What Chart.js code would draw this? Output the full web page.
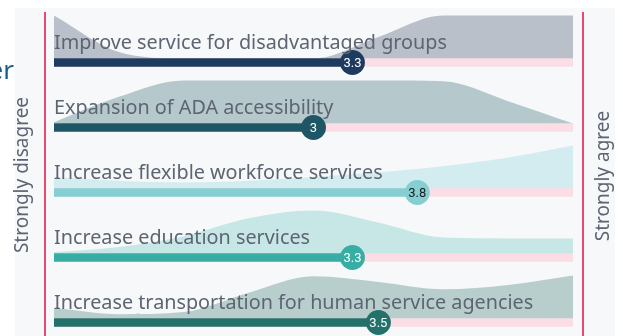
<!DOCTYPE html>
<html>
<head>
<meta charset="utf-8">
<script src="https://cdn.jsdelivr.net/npm/chart.js@4.4.1/dist/chart.umd.min.js"></script>
<style>
  html, body { margin: 0; padding: 0; background: #fff; }
  canvas { display: block; }
</style>
</head>
<body>
<canvas id="ratingChart" width="623" height="336"></canvas>
<script>
const categories = [
  'Improve service for disadvantaged groups',
  'Expansion of ADA accessibility',
  'Increase flexible workforce services',
  'Increase education services',
  'Increase transportation for human service agencies'
];
const averages = [3.3, 3, 3.8, 3.3, 3.5];

// answer spread along the 1-5 scale, 1 = tallest point of the ridge
const ratingSteps = [1, 1.5, 2, 2.5, 3, 3.5, 4, 4.5, 5];
const spreadDisadvantaged = [1.0, 0.15, 0, 0, 0, 0.5, 1.0, 1.0, 1.0];
const spreadAda = [0.03, 0.62, 1.0, 1.0, 1.0, 1.0, 0.98, 0.52, 0];
const spreadWorkforce = [0.27, 0.18, 0.14, 0.18, 0.27, 0.38, 0.52, 0.72, 1.0];
const spreadEducation = [0.03, 0.15, 0.4, 0.82, 1.0, 0.72, 0.37, 0.35, 0.35];
const spreadTransport = [0.25, 0.1, 0.15, 0.6, 0.98, 0.85, 0.68, 0.78, 1.0];
const spreads = [spreadDisadvantaged, spreadAda, spreadWorkforce, spreadEducation, spreadTransport];

const scaleEnds = ['Strongly disagree', 'Strongly agree'];

const barColors = ['#1d3b5f', '#1f5666', '#85cfd3', '#38ada4', '#22716b'];
const ridgeColors = ['#b9c0ca', '#b5c8cc', '#d2ecef', '#c7e7e7', '#b8cecd'];
const numberColors = ['#ffffff', '#ffffff', '#1a1a1a', '#ffffff', '#ffffff'];

// rows sit at y = 4 (top) .. 0 (bottom), 65px apart
const Y_MIN = -0.2077, Y_MAX = 4.9615;
const RIDGE = 43 / 65, BAR_LIFT = 4 / 65;
const rowY = i => 4 - i;

const ridgeSets = spreads.map((s, i) => ({
  type: 'line',
  data: ratingSteps.map((step, k) => ({ x: step, y: rowY(i) + BAR_LIFT + s[k] * RIDGE })),
  borderWidth: 0,
  pointRadius: 0,
  backgroundColor: ridgeColors[i],
  fill: { value: rowY(i) },
  cubicInterpolationMode: 'monotone',
  order: 4
}));

const ctx = document.getElementById('ratingChart').getContext('2d');

const decor = {
  id: 'decor',
  beforeDraw(chart) {
    const c = chart.ctx;
    c.save();
    c.fillStyle = '#ffffff';
    c.fillRect(0, 0, chart.width, chart.height);
    c.fillStyle = '#f6f8f9';
    c.fillRect(15, 8, 600, 328);

    c.strokeStyle = '#e9486f';
    c.lineWidth = 2;
    c.beginPath();
    c.moveTo(45, 12); c.lineTo(45, 336);
    c.moveTo(583, 12); c.lineTo(583, 336);
    c.stroke();

    c.fillStyle = '#1b5d8a';
    c.font = '26px "Noto Sans"';
    c.textAlign = 'right';
    c.textBaseline = 'alphabetic';
    c.fillText('er', 14, 79);

    c.fillStyle = '#5d6472';
    c.font = '19px "Noto Sans"';
    c.textAlign = 'center';
    c.textBaseline = 'middle';
    [[23, 175, scaleEnds[0]], [604, 176, scaleEnds[1]]].forEach(([x, yc, t]) => {
      c.save();
      c.translate(x, yc);
      c.rotate(-Math.PI / 2);
      c.fillText(t, 0, 0);
      c.restore();
    });
    c.restore();
  },
  afterDatasetsDraw(chart) {
    const c = chart.ctx;
    const y = chart.scales.y;
    const x = chart.scales.x;
    c.save();
    c.fillStyle = '#5d6472';
    c.font = '19.8px "Noto Sans"';
    c.textAlign = 'left';
    c.textBaseline = 'alphabetic';
    categories.forEach((name, i) => {
      c.fillText(name, x.getPixelForValue(1), y.getPixelForValue(rowY(i)) - 13);
    });

    const dots = chart.getDatasetMeta(chart.data.datasets.length - 1).data;
    c.font = '13px Roboto';
    c.textAlign = 'center';
    c.textBaseline = 'middle';
    dots.forEach((pt, i) => {
      c.fillStyle = numberColors[i];
      c.fillText(String(averages[i]), pt.x, pt.y + 1);
    });
    c.restore();
  }
};

new Chart(ctx, {
  type: 'line',
  data: {
    datasets: [
      ...ridgeSets,
      {
        type: 'bar',
        indexAxis: 'y',
        data: categories.map((c, i) => ({ x: [1, 5], y: rowY(i) })),
        backgroundColor: '#fbdde5',
        barThickness: 8,
        grouped: false,
        order: 3
      },
      {
        type: 'bar',
        indexAxis: 'y',
        data: averages.map((v, i) => ({ x: [1, v], y: rowY(i) })),
        backgroundColor: barColors,
        barThickness: 8,
        grouped: false,
        order: 2
      },
      {
        type: 'line',
        data: averages.map((v, i) => ({ x: v, y: rowY(i) })),
        showLine: false,
        pointRadius: 12.5,
        pointBorderWidth: 0,
        pointBackgroundColor: barColors,
        order: 1
      }
    ]
  },
  options: {
    responsive: false,
    animation: false,
    devicePixelRatio: 1,
    layout: { autoPadding: false, padding: { left: 54, right: 50, top: 0, bottom: 0 } },
    plugins: { legend: { display: false }, tooltip: { enabled: false } },
    scales: {
      x: { type: 'linear', min: 1, max: 5, offset: false, display: false },
      y: { type: 'linear', min: Y_MIN, max: Y_MAX, offset: false, display: false }
    }
  },
  plugins: [decor]
});
</script>
</body>
</html>
